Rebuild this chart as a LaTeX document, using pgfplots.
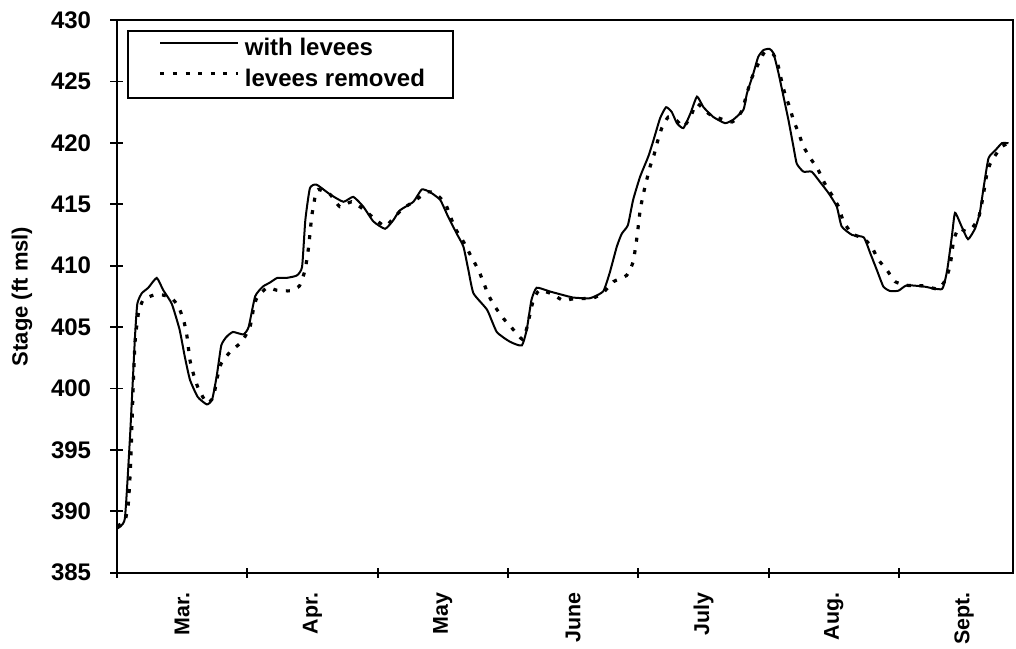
\documentclass[border=0pt]{standalone}
\usepackage{fontspec}
\setmainfont{Liberation Sans}
\usepackage{pgfplots}
\pgfplotsset{compat=1.18}
\begin{document}
\begin{tikzpicture}
\path[use as bounding box] (-58.5pt,-37.65pt) rectangle (449.5pt,286.35pt);
\begin{axis}[
  scale only axis,
  width=448pt, height=276.35pt,
  xmin=0, xmax=6.875,
  ymin=385, ymax=430,
  ytick={385,390,...,430},
  xtick={0.5,1.5,...,6.5},
  xticklabels={Mar.,Apr.,May,June,July,Aug.,Sept.},
  minor xtick={0,1,...,6},
  tick pos=left,
  tick align=center,
  major tick length=6.5pt,
  minor tick length=5pt,
  every major x tick/.append style={draw=none},
  every tick/.append style={line width=0.9pt, black},
  axis line style={line width=1pt},
  /pgf/number format/assume math mode=true,
  yticklabel style={font=\bfseries\fontsize{12}{14}\selectfont, inner sep=0pt},
  yticklabel shift=9.5pt,
  xticklabel style={font=\bfseries\fontsize{10.7}{12}\selectfont, rotate=90, anchor=east, inner sep=0pt},
  xticklabel shift=6.5pt,
  ylabel={Stage (ft msl)},
  ylabel style={font=\bfseries\fontsize{11}{13}\selectfont, at={(axis description cs:-0.106,0.5)}, anchor=center},
  legend cell align=left,
  legend image code/.code={\path (0pt,0pt); \draw[#1] (1.5pt,3pt) -- (40.5pt,3pt);},
  legend style={at={(0,1)}, anchor=north west, xshift=4.85pt, yshift=-5pt,
    draw=black, line width=1pt, inner xsep=14pt, inner ysep=3.2pt,
    font=\bfseries\fontsize{12}{14}\selectfont,
    column sep=2.5pt, row sep=3.75pt,
    nodes={inner sep=0pt, text height=9pt, text depth=2.6pt}},
]
\addplot[black, line width=1pt, smooth, tension=0.3] coordinates {
(0.00,388.6) (0.06,389.4) (0.10,396.1) (0.138,404.2) (0.156,406.9) (0.19,407.75)
(0.24,408.2) (0.305,409.0) (0.355,408.0) (0.42,406.9) (0.48,404.8) (0.52,402.6)
(0.56,400.7) (0.62,399.3) (0.69,398.7) (0.73,399.1) (0.765,401.0) (0.80,403.5)
(0.84,404.2) (0.89,404.6) (0.97,404.4) (1.01,405.0) (1.06,407.5) (1.12,408.3)
(1.17,408.6) (1.23,409.0) (1.30,409.0) (1.38,409.2) (1.42,409.9) (1.445,413.7)
(1.48,416.3) (1.53,416.6) (1.635,415.8) (1.737,415.2) (1.813,415.6) (1.89,414.8)
(1.967,413.6) (2.057,413.0) (2.12,413.7) (2.17,414.5) (2.274,415.2) (2.338,416.2)
(2.40,416.0) (2.48,415.35) (2.54,414.0) (2.607,412.6) (2.658,411.55) (2.696,409.65)
(2.735,407.75) (2.84,406.4) (2.914,404.6) (3.016,403.8) (3.106,403.5) (3.144,404.8)
(3.18,407.2) (3.22,408.2) (3.32,407.9) (3.46,407.5) (3.50,407.4) (3.63,407.35)
(3.73,407.9) (3.78,409.4) (3.835,411.55) (3.873,412.6) (3.92,413.3) (3.96,415.35)
(4.014,417.25) (4.077,418.9) (4.116,420.2) (4.167,422.0) (4.213,422.9) (4.257,422.5)
(4.296,421.6) (4.346,421.2) (4.40,422.4) (4.45,423.76) (4.50,422.9) (4.576,422.1)
(4.666,421.6) (4.73,421.9) (4.807,422.7) (4.833,424.0) (4.884,425.7) (4.92,427.0)
(4.96,427.55) (5.006,427.65) (5.037,427.3) (5.075,425.7) (5.114,423.76) (5.152,421.85)
(5.19,419.7) (5.216,418.3) (5.267,417.65) (5.33,417.65) (5.395,416.8) (5.46,415.9)
(5.523,414.8) (5.56,413.2) (5.64,412.5) (5.73,412.3) (5.78,411.0) (5.83,409.65)
(5.88,408.3) (5.93,407.94) (5.996,407.96) (6.06,408.4) (6.19,408.3) (6.33,408.1)
(6.37,409.65) (6.406,412.4) (6.43,414.3) (6.48,413.2) (6.53,412.15) (6.585,413.05)
(6.62,414.3) (6.65,416.4) (6.687,418.75) (6.74,419.4) (6.79,419.97) (6.84,419.97)
};
\addlegendentry{with levees}
\addplot[black, line width=1.6pt, dash pattern=on 2pt off 4.3pt, smooth, tension=0.3] coordinates {
(0.00,388.8) (0.06,389.2) (0.087,390.65) (0.105,393.9) (0.12,398.8) (0.138,403.7)
(0.164,406.1) (0.20,407.2) (0.28,407.6) (0.355,407.6) (0.42,407.35) (0.47,406.7)
(0.51,405.6) (0.535,404.4) (0.56,402.3) (0.586,401.2) (0.624,400.0) (0.69,398.8)
(0.74,399.3) (0.765,400.7) (0.80,402.05) (0.87,403.0) (0.957,403.8) (1.02,405.0)
(1.046,406.4) (1.072,407.35) (1.15,408.2) (1.226,408.0) (1.33,407.95) (1.40,408.35)
(1.443,409.65) (1.47,411.5) (1.494,414.0) (1.52,415.6) (1.545,416.2) (1.635,415.8)
(1.71,414.8) (1.80,415.2) (1.89,414.6) (1.967,413.9) (2.057,413.2) (2.12,413.85)
(2.19,414.6) (2.30,415.4) (2.38,416.0) (2.44,415.9) (2.517,415.1) (2.555,414.1)
(2.594,413.05) (2.658,411.95) (2.72,410.7) (2.773,409.65) (2.81,408.7) (2.85,407.6)
(2.90,406.66) (2.965,405.7) (3.04,404.8) (3.11,404.0) (3.144,404.9) (3.17,406.1)
(3.195,407.2) (3.24,408.0) (3.336,407.7) (3.425,407.15) (3.50,407.3) (3.65,407.35)
(3.73,407.8) (3.81,408.7) (3.91,409.2) (3.96,410.3) (3.99,412.35) (4.014,414.5)
(4.04,415.9) (4.065,417.0) (4.09,418.06) (4.12,419.0) (4.147,420.1) (4.18,421.2)
(4.23,422.1) (4.296,421.8) (4.346,421.3) (4.40,422.1) (4.45,423.2) (4.55,422.3)
(4.72,421.7) (4.794,422.6) (4.86,425.0) (4.91,426.2) (4.97,427.4) (5.037,427.2)
(5.075,426.2) (5.10,425.0) (5.127,423.9) (5.16,422.95) (5.19,421.85) (5.23,420.8)
(5.267,419.7) (5.32,418.75) (5.38,417.8) (5.43,416.7) (5.485,415.75) (5.536,414.8)
(5.574,413.6) (5.64,412.6) (5.73,412.2) (5.79,411.55) (5.84,410.5) (5.907,409.65)
(5.97,408.7) (6.06,408.4) (6.19,408.35) (6.30,408.1) (6.355,408.8) (6.39,409.9)
(6.406,411.0) (6.42,412.1) (6.457,413.05) (6.51,412.8) (6.56,413.05) (6.61,413.85)
(6.636,415.1) (6.654,416.2) (6.675,417.5) (6.70,418.3) (6.74,419.0) (6.79,419.7)
(6.84,419.97)
};
\addlegendentry{levees removed}
\end{axis}
\end{tikzpicture}
\end{document}
